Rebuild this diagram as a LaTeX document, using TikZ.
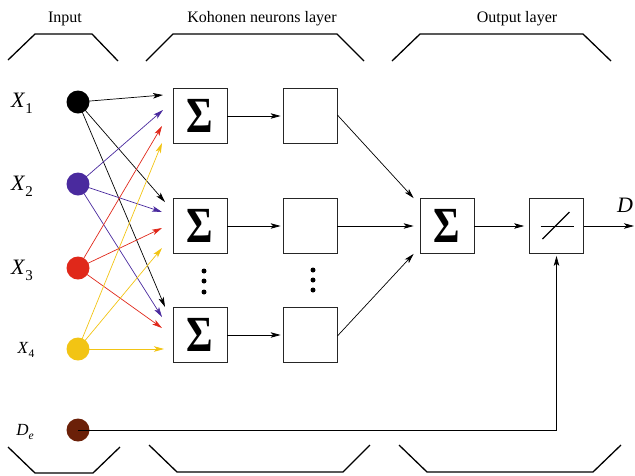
\documentclass[tikz,border=0pt]{standalone}
\usepackage{fontspec}
\setmainfont{Liberation Serif}
\usetikzlibrary{arrows.meta}
\definecolor{cpurple}{HTML}{4A2A9E}
\definecolor{cred}{HTML}{E0281A}
\definecolor{cyellow}{HTML}{F2C414}
\definecolor{cbrown}{HTML}{6B2008}
\newcommand{\sumsym}{\scalebox{0.88}[1.1]{\fontsize{46}{46}\selectfont\bfseries Σ}}
\newcommand{\xlab}[3]{{\fontsize{#3}{#3}\selectfont\textit{#1}\raisebox{-0.28em}{\fontsize{0.68\dimexpr#3pt\relax}{10}\selectfont #2}}}
\begin{document}
\begin{tikzpicture}[x=1pt,y=-1pt,
  sbox/.style={draw=black!85, line width=0.8pt, minimum width=54pt, minimum height=55pt, inner sep=0pt},
  conn/.style={line width=0.7pt, -{Stealth[length=10pt,width=5.5pt,inset=2.5pt]}},
  brk/.style={line width=1.3pt},
  lbl/.style={font=\fontsize{16}{16}\selectfont},
  inp/.style={circle, inner sep=0pt, minimum size=23pt},
  smalldot/.style={circle, fill=black, inner sep=0pt, minimum size=5pt}
]
\path[use as bounding box] (0,0) rectangle (635,475);

% brackets
\draw[brk] (8,60) -- (35,34) -- (92,34) -- (118,61);
\draw[brk] (146,61) -- (173,34) -- (337,34) -- (364,61);
\draw[brk] (392,61) -- (420,34) -- (583,34) -- (611,61);
\draw[brk] (8,447) -- (35,473) -- (93,473) -- (120,447);
\draw[brk] (149,445) -- (177,472) -- (343,472) -- (370,445);
\draw[brk] (399,445) -- (427,472) -- (593,472) -- (621,445);

\node[lbl] (tin) at (65,19) {Input};
\node[lbl] (tkoh) at (262,19) {Kohonen neurons layer};
\node[lbl] (tout) at (517,19) {Output layer};

% input nodes
\node[inp, fill=black] (x1) at (78,102) {};
\node[inp, fill=cpurple] (x2) at (78,184) {};
\node[inp, fill=cred] (x3) at (78,268) {};
\node[inp, fill=cyellow] (x4) at (78,349) {};
\node[inp, fill=cbrown] (de) at (78,430) {};

\node (lx1) at (22,103) {\xlab{X}{1}{22}};
\node (lx2) at (22,186) {\xlab{X}{2}{22}};
\node (lx3) at (22,270) {\xlab{X}{3}{22}};
\node (lx4) at (26,350) {\xlab{X}{4}{17}};
\node (lde) at (25,432) {\xlab{D}{\textit{e}}{17}};

% Kohonen boxes
\node[sbox] (s1) at (200,116) {\sumsym};
\node[sbox] (s2) at (200,226) {\sumsym};
\node[sbox] (s3) at (200,335) {\sumsym};
\node[sbox] (e1) at (310,116) {};
\node[sbox] (e2) at (310,226) {};
\node[sbox] (e3) at (310,335) {};

\node[smalldot] (d1) at (204,271) {};
\node[smalldot] (d2) at (204,281) {};
\node[smalldot] (d3) at (204,292) {};
\node[smalldot] (d4) at (313,270) {};
\node[smalldot] (d5) at (313,280) {};
\node[smalldot] (d6) at (313,290) {};

% output boxes
\node[sbox] (o) at (447,226) {\sumsym};
\node[sbox] (t) at (556.5,226) {};
\draw[line width=0.8pt] ([xshift=-16pt]t.center) -- ([xshift=17pt]t.center);
\draw[line width=1.1pt] ([xshift=-14pt,yshift=-13pt]t.center) -- ([xshift=13pt,yshift=14pt]t.center);
\node (ld) at (625,205) {\fontsize{22}{22}\selectfont\textit{D}};
\coordinate (dout) at (634,226);

% arrow tip coordinates
\coordinate (a11) at (163,95);
\coordinate (a21) at (163,110);
\coordinate (a31) at (162,126);
\coordinate (a41) at (162,143);
\coordinate (a12) at (165,202);
\coordinate (a22) at (162,212);
\coordinate (a32) at (162,228);
\coordinate (a42) at (162,248);
\coordinate (a13) at (165,307);
\coordinate (a23) at (162,317);
\coordinate (a33) at (162,328);
\coordinate (a43) at (164,349);

\draw[conn] (x1.center) -- (a11);
\draw[conn] (x1.center) -- (a12);
\draw[conn] (x1.center) -- (a13);
\draw[conn, cpurple] (x2.center) -- (a21);
\draw[conn, cpurple] (x2.center) -- (a22);
\draw[conn, cpurple] (x2.center) -- (a23);
\draw[conn, cred] (x3.center) -- (a31);
\draw[conn, cred] (x3.center) -- (a32);
\draw[conn, cred] (x3.center) -- (a33);
\draw[conn, cyellow] (x4.center) -- (a41);
\draw[conn, cyellow] (x4.center) -- (a42);
\draw[conn, cyellow] (x4.center) -- (a43);

\draw[conn, shorten >=2pt] (s1) -- (e1);
\draw[conn, shorten >=2pt] (s2) -- (e2);
\draw[conn, shorten >=2pt] (s3) -- (e3);

\draw[conn] ([yshift=1pt]e1.east) -- ([xshift=-6pt]o.north west);
\draw[conn] (e2.east) -- ([xshift=-6pt]o.west);
\draw[conn] ([yshift=-1pt]e3.east) -- ([xshift=-6pt]o.south west);

\draw[conn, shorten >=5pt] (o) -- (t);
\draw[conn] (t) -- (dout);
\draw[conn, shorten >=2pt] (de.center) -| (t.south);
\end{tikzpicture}
\end{document}
